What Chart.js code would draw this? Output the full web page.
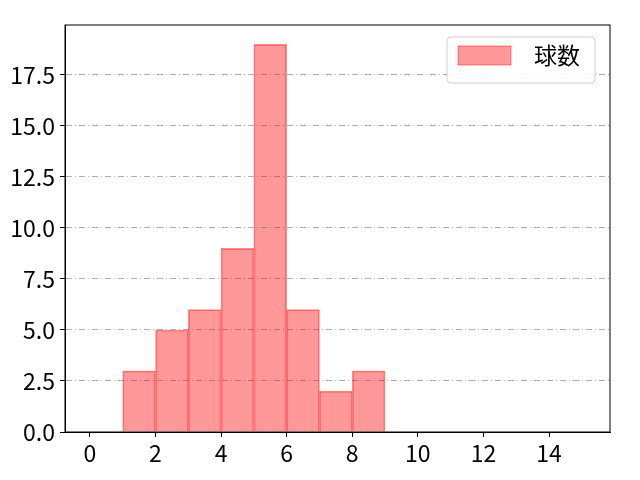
<!DOCTYPE html>
<html>
<head>
<meta charset="utf-8">
<script src="https://cdn.jsdelivr.net/npm/chart.js@4"></script>
<style>
  html, body { margin: 0; padding: 0; background: #fff; }
</style>
</head>
<body>
<canvas id="chart" width="640" height="480"></canvas>
<script>
// 階級の中心と球数
const binCenters = [1.5, 2.5, 3.5, 4.5, 5.5, 6.5, 7.5, 8.5];
const pitchCounts = [3, 5, 6, 9, 19, 6, 2, 3];
const xTicks = [0, 2, 4, 6, 8, 10, 12, 14];
const yTicks = [0, 2.5, 5, 7.5, 10, 12.5, 15, 17.5];
const seriesLabel = "\u2002球数";

const FONT = "'Noto Sans CJK JP', 'DejaVu Sans', sans-serif";
const FSIZE = 23;
const LEG_PAD = 8;

// 凡例を右上へ移して枠を描く
const legendFrame = {
  id: "legendFrame",
  afterLayout(chart) {
    const lg = chart.legend;
    if (!lg) return;
    const a = chart.chartArea;
    lg.left = a.right - 152 - LEG_PAD;
    lg.top = a.top + 22 - LEG_PAD - 3;
    if (lg._framed) return;
    const orig = lg.draw.bind(lg);
    lg.draw = function () {
      const ctx = chart.ctx;
      const ar = chart.chartArea;
      ctx.save();
      ctx.beginPath();
      ctx.roundRect(ar.right - 163, ar.top + 12, 148, 46, 4);
      ctx.fillStyle = "rgba(255,255,255,0.9)";
      ctx.fill();
      ctx.strokeStyle = "#d0d0d0";
      ctx.lineWidth = 1;
      ctx.stroke();
      ctx.restore();
      orig();
    };
    lg._framed = true;
  },
};

// 枠線
const frame = {
  id: "frame",
  afterDraw(chart) {
    const { ctx, chartArea: a } = chart;
    ctx.save();
    ctx.strokeStyle = "#000";
    ctx.lineWidth = 1;
    ctx.strokeRect(a.left, a.top, a.right - a.left, a.bottom - a.top);
    ctx.restore();
  },
};

new Chart(document.getElementById("chart"), {
  type: "bar",
  data: {
    datasets: [
      {
        label: seriesLabel,
        data: binCenters.map((x, i) => ({ x: x, y: pitchCounts[i] })),
        backgroundColor: "rgba(255, 0, 0, 0.4)",
        borderColor: "rgba(255, 0, 0, 0.45)",
        borderWidth: 1,
        barPercentage: 1,
        categoryPercentage: 1,
      },
    ],
  },
  plugins: [legendFrame, frame],
  options: {
    responsive: false,
    animation: false,
    layout: { padding: { left: 0, right: 30, top: 25, bottom: 0 } },
    plugins: {
      legend: {
        position: "chartArea",
        align: "start",
        labels: {
          font: { family: FONT, size: FSIZE },
          color: "#000",
          boxWidth: 53,
          boxHeight: 19,
          padding: LEG_PAD,
        },
      },
      tooltip: { enabled: false },
    },
    scales: {
      x: {
        type: "linear",
        offset: false,
        min: -0.76,
        max: 15.86,
        afterBuildTicks: (axis) => {
          axis.ticks = xTicks.map((v) => ({ value: v }));
        },
        afterFit: (axis) => {
          axis.height = 48;
        },
        ticks: {
          font: { family: FONT, size: FSIZE },
          color: "#000",
          padding: 2,
          autoSkip: false,
          maxRotation: 0,
        },
        grid: {
          offset: false,
          drawOnChartArea: false,
          drawTicks: true,
          tickLength: 5,
          tickColor: "#000",
        },
        border: { color: "#000" },
      },
      y: {
        min: 0,
        max: 19.95,
        afterBuildTicks: (axis) => {
          axis.ticks = yTicks.map((v) => ({ value: v }));
        },
        afterFit: (axis) => {
          axis.width = 65;
        },
        ticks: {
          font: { family: FONT, size: FSIZE },
          color: "#000",
          padding: 5,
          autoSkip: false,
          callback: (v) => v.toFixed(1),
        },
        grid: {
          color: "#b0b0b0",
          tickColor: "#000",
          tickLength: 5,
          lineWidth: 1,
        },
        border: { color: "#000", dash: [6, 3, 1, 3] },
      },
    },
  },
});
</script>
</body>
</html>
